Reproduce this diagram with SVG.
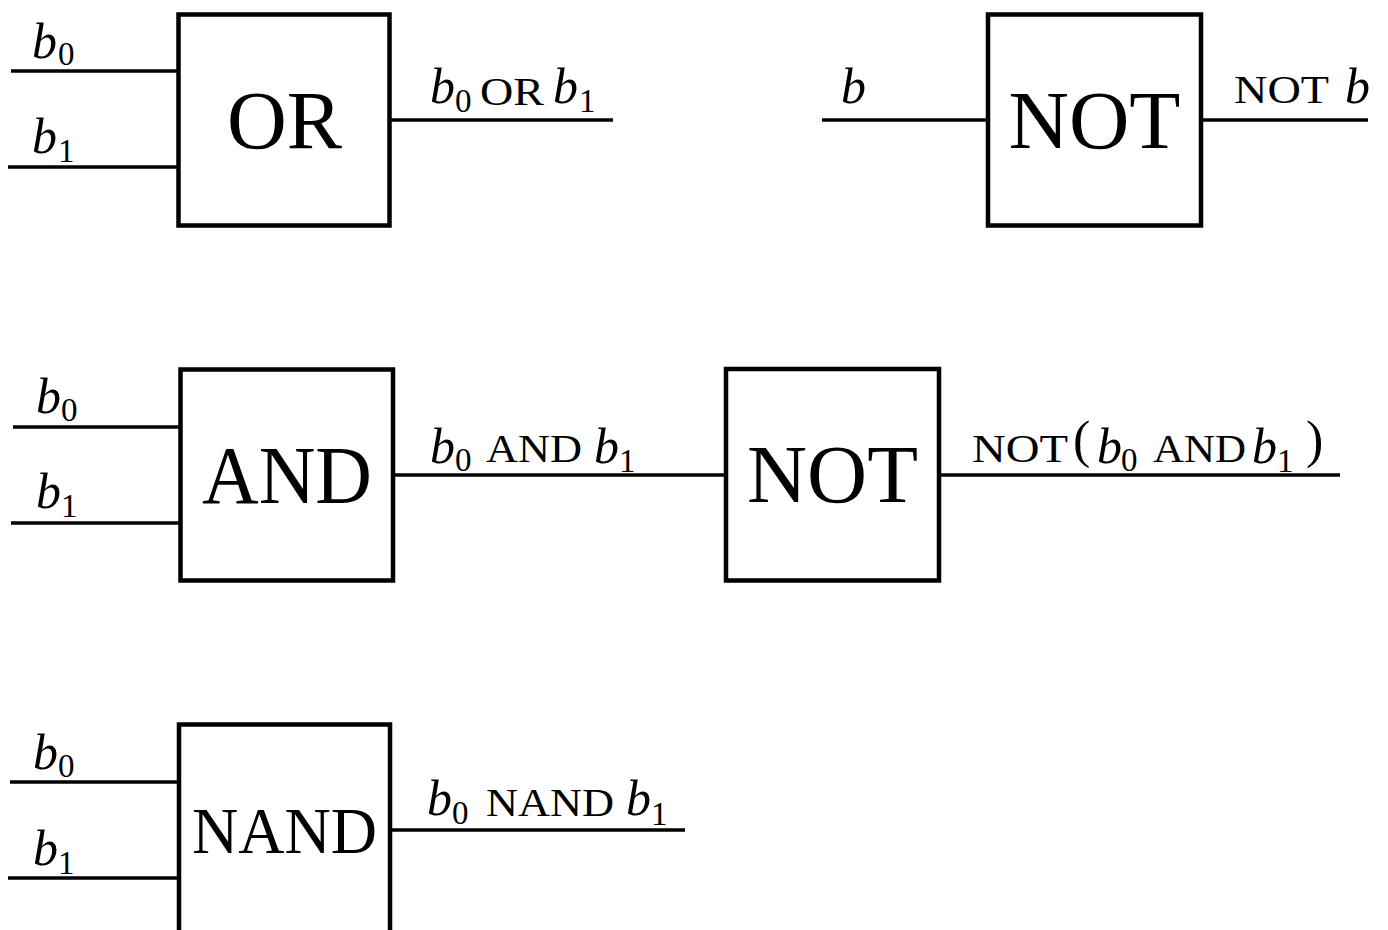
<svg xmlns="http://www.w3.org/2000/svg" width="1388" height="930" viewBox="0 0 1388 930">
<style>
.box{fill:#fff;stroke:#000;stroke-width:4.5}
.w{stroke:#000;stroke-width:3.5;fill:none}
.gate{font-family:"Liberation Serif",serif;font-size:82px;text-anchor:middle;fill:#000}
.bi{font-family:"Liberation Serif",serif;font-style:italic;font-size:50px;fill:#000}
.sub{font-family:"Liberation Serif",serif;font-size:33px;fill:#000}
.lt{font-family:"Liberation Serif",serif;font-size:40px;fill:#000}
.par{font-family:"Liberation Serif",serif;font-size:52px;fill:#000}
</style>
<rect width="1388" height="930" fill="#fff"/>
<g id="connectors">
<line class="w" x1="11" y1="71" x2="178" y2="71"/>
<line class="w" x1="8" y1="167" x2="178" y2="167"/>
<line class="w" x1="390" y1="120" x2="613" y2="120"/>
<line class="w" x1="822" y1="120" x2="988" y2="120"/>
<line class="w" x1="1201" y1="120" x2="1368" y2="120"/>
<line class="w" x1="13" y1="427" x2="180" y2="427"/>
<line class="w" x1="11" y1="523" x2="180" y2="523"/>
<line class="w" x1="393" y1="475" x2="726" y2="475"/>
<line class="w" x1="939" y1="475" x2="1340" y2="475"/>
<line class="w" x1="10" y1="782" x2="179" y2="782"/>
<line class="w" x1="8" y1="878" x2="179" y2="878"/>
<line class="w" x1="390" y1="830" x2="685" y2="830"/>
</g>
<g id="or-gate">
<rect class="box" x="178.5" y="14.5" width="211" height="211"/>
<text class="gate" x="284.5" y="148" textLength="115" lengthAdjust="spacingAndGlyphs">OR</text>
</g>
<g id="not-gate-1">
<rect class="box" x="988" y="14.5" width="213" height="211"/>
<text class="gate" x="1094.5" y="148" textLength="172" lengthAdjust="spacingAndGlyphs">NOT</text>
</g>
<g id="and-gate">
<rect class="box" x="180.5" y="369.5" width="212.5" height="211"/>
<text class="gate" x="287" y="503" textLength="170" lengthAdjust="spacingAndGlyphs">AND</text>
</g>
<g id="not-gate-2">
<rect class="box" x="726" y="369" width="213" height="211.5"/>
<text class="gate" x="832.5" y="502" textLength="171" lengthAdjust="spacingAndGlyphs">NOT</text>
</g>
<g id="nand-gate">
<rect class="box" x="179" y="724.5" width="211" height="220"/>
<text class="gate" x="284.5" y="853" style="font-size:65px" textLength="185" lengthAdjust="spacingAndGlyphs">NAND</text>
</g>
<g id="labels">
<text class="bi" x="32" y="58">b</text><text class="sub" x="58" y="65">0</text>
<text class="bi" x="32" y="153">b</text><text class="sub" x="58" y="162">1</text>
<text class="bi" x="430" y="103">b</text><text class="sub" x="455" y="112">0</text>
<text class="lt" x="480" y="105" textLength="64" lengthAdjust="spacingAndGlyphs">OR</text>
<text class="bi" x="553" y="103">b</text><text class="sub" x="579" y="112">1</text>
<text class="bi" x="841" y="103">b</text>
<text class="lt" x="1234" y="103" textLength="95" lengthAdjust="spacingAndGlyphs">NOT</text>
<text class="bi" x="1345" y="103">b</text>
<text class="bi" x="36" y="413">b</text><text class="sub" x="61" y="421">0</text>
<text class="bi" x="36" y="508">b</text><text class="sub" x="61" y="517">1</text>
<text class="bi" x="430" y="463">b</text><text class="sub" x="455" y="471">0</text>
<text class="lt" x="486" y="462" textLength="96" lengthAdjust="spacingAndGlyphs">AND</text>
<text class="bi" x="594" y="463">b</text><text class="sub" x="619" y="472">1</text>
<text class="lt" x="972" y="462" textLength="96" lengthAdjust="spacingAndGlyphs">NOT</text>
<text class="par" x="1073" y="457">(</text>
<text class="bi" x="1097" y="463">b</text><text class="sub" x="1121" y="471">0</text>
<text class="lt" x="1153" y="462" textLength="93" lengthAdjust="spacingAndGlyphs">AND</text>
<text class="bi" x="1252" y="463">b</text><text class="sub" x="1277" y="472">1</text>
<text class="par" x="1306" y="457">)</text>
<text class="bi" x="33" y="769">b</text><text class="sub" x="58" y="777">0</text>
<text class="bi" x="33" y="865">b</text><text class="sub" x="58" y="874">1</text>
<text class="bi" x="427" y="815">b</text><text class="sub" x="452" y="824">0</text>
<text class="lt" x="486" y="816" textLength="128" lengthAdjust="spacingAndGlyphs">NAND</text>
<text class="bi" x="626" y="815">b</text><text class="sub" x="651" y="825">1</text>
</g>
</svg>
